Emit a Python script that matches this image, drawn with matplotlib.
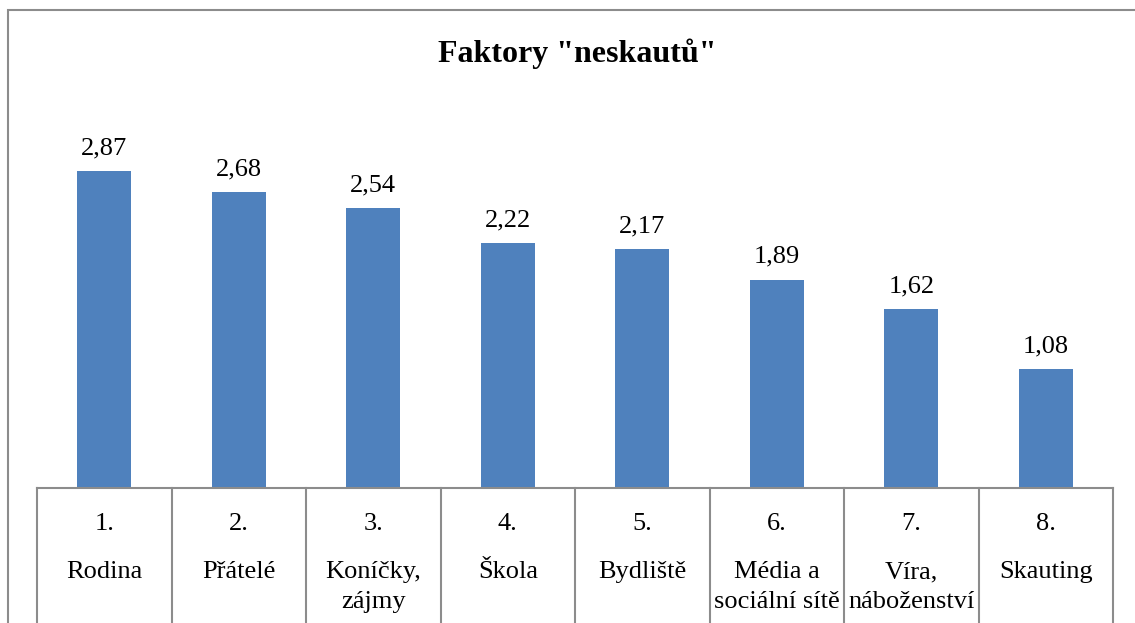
import matplotlib.pyplot as plt
from matplotlib.patches import Rectangle

# data
poradi = ["1.", "2.", "3.", "4.", "5.", "6.", "7.", "8."]
faktory = ["Rodina", "Přátelé", "Koníčky,\nzájmy", "Škola", "Bydliště",
           "Média a\nsociální sítě", "Víra,\nnáboženství", "Skauting"]
hodnoty = [2.87, 2.68, 2.54, 2.22, 2.17, 1.89, 1.62, 1.08]

plt.rcParams['font.family'] = ['Liberation Serif', 'DejaVu Serif']

W, H = 1135, 623
fig = plt.figure(figsize=(W / 100, H / 100), dpi=100)

# chart frame (cropped on right and bottom)
fig.patches.append(Rectangle((7.5 / W, -0.1), 1.2, 1.1 - 10.5 / H,
                             transform=fig.transFigure, fill=False,
                             edgecolor='#8c8c8c', lw=1.5))

fig.text(577 / W, 1 - 62 / H, 'Faktory "neskautů"', ha='center', va='baseline',
         fontsize=23, fontweight='bold')

ax = fig.add_axes([37 / W, (H - 488) / H, (1113 - 37) / W, (488 - 102) / H])
x = range(len(hodnoty))
ax.bar(x, hodnoty, width=0.4, color='#4F81BD')
ax.set_xlim(-0.5, len(hodnoty) - 0.5)
ax.set_ylim(0, 3.5)

for s in ['top', 'right', 'left']:
    ax.spines[s].set_visible(False)
ax.spines['bottom'].set_color('#8c8c8c')
ax.spines['bottom'].set_linewidth(1.5)
ax.set_xticks([])
ax.set_yticks([])

for i, v in enumerate(hodnoty):
    ax.annotate(f"{v:.2f}".replace('.', ','), (i, v), xytext=(0, 12),
                textcoords='offset points', ha='center', va='baseline',
                fontsize=19)

# category table below the axis
px = 1 / 110.3  # data units per pixel on y
for k in range(len(hodnoty) + 1):
    ax.plot([k - 0.5, k - 0.5], [0, -200 * px], color='#8c8c8c', lw=1.5,
            clip_on=False)

for i, (p, f) in enumerate(zip(poradi, faktory)):
    ax.text(i, -42 * px, p, ha='center', va='baseline', fontsize=19)
    for j, radek in enumerate(f.split('\n')):
        ax.text(i, -(90 + 30 * j) * px, radek, ha='center', va='baseline',
                fontsize=19)

fig.savefig('out.png', dpi=100)
